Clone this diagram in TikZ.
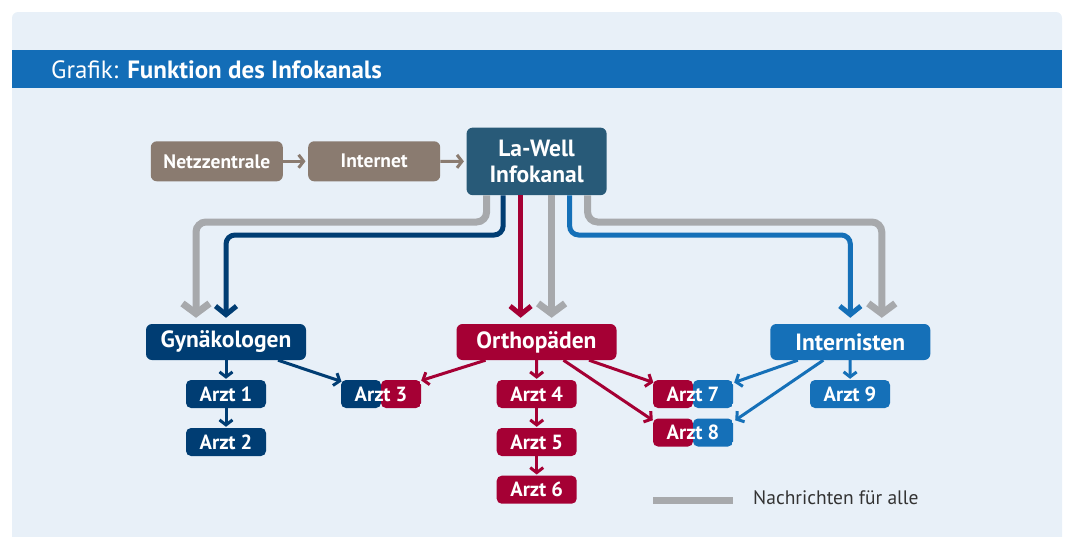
\documentclass[tikz,border=0pt]{standalone}
\usepackage{fontspec}
\setmainfont{PT Sans}
\usetikzlibrary{arrows.meta,calc}
\definecolor{panelbg}{HTML}{E8F0F8}
\definecolor{bannerc}{HTML}{136DB7}
\definecolor{brownc}{HTML}{8A7B70}
\definecolor{tealc}{HTML}{285A78}
\definecolor{navyc}{HTML}{003D73}
\definecolor{redc}{HTML}{A50034}
\definecolor{bluec}{HTML}{1570B8}
\definecolor{grayc}{HTML}{A7A9AC}
\definecolor{textc}{HTML}{333333}
\begin{document}
\begin{tikzpicture}[x=1pt,y=-1pt,
  box/.style={rounded corners=6pt, inner sep=0pt, text=white,
    font=\bfseries\fontsize{23.5}{26}\selectfont, minimum height=36pt, minimum width=160pt},
  topbox/.style={box, fill=brownc, minimum width=132pt, minimum height=40pt,
    font=\bfseries\fontsize{19.5}{22}\selectfont},
  arzt/.style={box, minimum width=80pt, minimum height=28pt, rounded corners=5pt,
    font=\bfseries\fontsize{20.5}{22}\selectfont},
  split/.style 2 args={arzt, path picture={
    \fill[#1] (path picture bounding box.south west) rectangle (path picture bounding box.north);
    \fill[#2] (path picture bounding box.south) rectangle (path picture bounding box.north east);}},
  gline/.style={draw=grayc, line width=7pt, rounded corners=10pt,
    -{Straight Barb[length=10pt,width=27pt]}},
  cline/.style={line width=5pt, rounded corners=9pt,
    -{Straight Barb[length=8.5pt,width=21pt]}},
  thinarrow/.style={line width=3pt, -{Straight Barb[length=5pt,width=13pt]}},
]
\useasboundingbox (0,0) rectangle (1067,536);
\fill[panelbg, rounded corners=6pt] (12,12) rectangle (1062,560);
\fill[bannerc] (12,50) rectangle (1062,88);
\node[anchor=base west, text=white, inner sep=0pt, font=\fontsize{25}{28}\selectfont]
  (title) at (51,78.5) {Grafik: \textbf{Funktion des Infokanals}};

% top row
\node[topbox] (nz) at (216.8,161.3) {Netzzentrale};
\node[topbox] (inet) at (374.2,161.3) {Internet};
\node[box, fill=tealc, minimum width=140pt, minimum height=67.5pt, align=center,
  font=\bfseries\fontsize{23.5}{25.5}\selectfont] (lw) at (536.6,161.4) {La-Well\\Infokanal};
\draw[brownc, thinarrow, shorten >=2.5pt] (nz) -- (inet);
\draw[brownc, thinarrow, shorten >=2.5pt] (inet) -- (lw);

% second row
\node[box, fill=navyc] (gyn) at (226,342) {Gynäkologen};
\node[box, fill=redc] (orth) at (536.5,342) {Orthopäden};
\node[box, fill=bluec] (int) at (850.3,342) {Internisten};

% doctors
\node[arzt, fill=navyc] (a1) at (226,394) {Arzt 1};
\node[arzt, fill=navyc] (a2) at (226,442) {Arzt 2};
\node[split={navyc}{redc}] (a3) at (381,394) {Arzt 3};
\node[arzt, fill=redc] (a4) at (536.7,394) {Arzt 4};
\node[arzt, fill=redc] (a5) at (536.7,442) {Arzt 5};
\node[arzt, fill=redc] (a6) at (536.7,489.7) {Arzt 6};
\node[split={redc}{bluec}] (a7) at (693,394) {Arzt 7};
\node[split={redc}{bluec}] (a8) at (693,432.5) {Arzt 8};
\node[arzt, fill=bluec] (a9) at (850,394) {Arzt 9};

% exits from La-Well
\coordinate (e1) at ([xshift=-50pt]lw.south);
\coordinate (e2) at ([xshift=-33.5pt]lw.south);
\coordinate (e3) at ([xshift=-16pt]lw.south);
\coordinate (e4) at ([xshift=15pt]lw.south);
\coordinate (e5) at ([xshift=33pt]lw.south);
\coordinate (e6) at ([xshift=51pt]lw.south);
\coordinate (hg) at (0,222);
\coordinate (hb) at (0,235);
\coordinate (tg1) at ([xshift=-30pt,yshift=6pt]gyn.north);
\coordinate (tn) at ([yshift=6pt]gyn.north);
\coordinate (to) at ([yshift=6pt]orth.north);
\coordinate (tb) at ([yshift=6pt]int.north);
\coordinate (tg3) at ([xshift=31.5pt,yshift=6pt]int.north);

\draw[gline] (e1) -- (e1 |- hg) -- (tg1 |- hg) -- (tg1);
\draw[cline, draw=navyc] (e2) -- (e2 |- hb) -- (tn |- hb) -- (tn);
\draw[cline, draw=redc] (e3) -- (e3 |- to);
\draw[gline] (e4) -- (e4 |- to);
\draw[cline, draw=bluec] (e5) -- (e5 |- hb) -- (tb |- hb) -- (tb);
\draw[gline] (e6) -- (e6 |- hg) -- (tg3 |- hg) -- (tg3);

% thin arrows
\draw[thinarrow, navyc, shorten >=1pt] (gyn) -- (a1);
\draw[thinarrow, navyc, shorten >=1pt] (a1) -- (a2);
\draw[thinarrow, navyc] ([xshift=52pt]gyn.south) -- ([xshift=0.7pt,yshift=-1.7pt]a3.north west);
\draw[thinarrow, redc] ([xshift=-51pt]orth.south) -- ([yshift=-0.7pt]a3.north east);
\draw[thinarrow, redc, shorten >=1pt] (orth) -- (a4);
\draw[thinarrow, redc, shorten >=1pt] (a4) -- (a5);
\draw[thinarrow, redc, shorten >=1pt] (a5) -- (a6);
\draw[thinarrow, redc] ([xshift=52.5pt]orth.south) -- ([xshift=0.6pt,yshift=-2.7pt]a7.north west);
\draw[thinarrow, redc] ([xshift=27pt]orth.south) -- ([yshift=-2pt]a8.north west);
\draw[thinarrow, bluec] ([xshift=-52.5pt]int.south) -- ([xshift=1pt,yshift=-2.7pt]a7.north east);
\draw[thinarrow, bluec] ([xshift=-27pt]int.south) -- ([xshift=2pt,yshift=-2pt]a8.north east);
\draw[thinarrow, bluec, shorten >=1pt] (int) -- (a9);

% legend
\coordinate (lg1) at (653,500.5);
\coordinate (lg2) at (733,500.5);
\draw[grayc, line width=7.5pt] (lg1) -- (lg2);
\node[anchor=base west, inner sep=0pt, text=textc, font=\fontsize{19.5}{22}\selectfont]
  (legend) at (753,504) {Nachrichten für alle};
\end{tikzpicture}
\end{document}
